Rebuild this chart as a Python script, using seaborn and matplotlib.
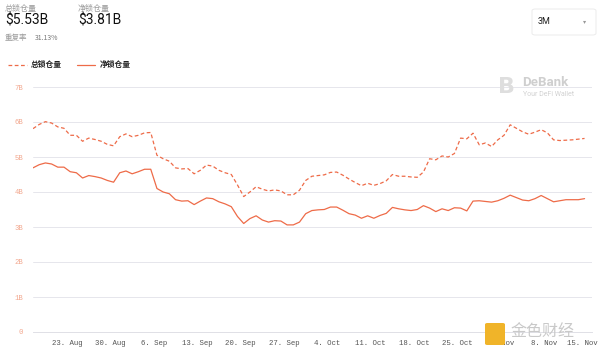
import numpy as np
import pandas as pd
import matplotlib
matplotlib.use('Agg')
import matplotlib.pyplot as plt
import matplotlib.patches as mpatches
import matplotlib.dates as mdates
import seaborn as sns

# 总锁仓量 / 净锁仓量 (B), 每日数据
total_tvl = [5.81, 5.93, 6.01, 5.97, 5.86, 5.82, 5.62, 5.62, 5.45, 5.54,
             5.50, 5.45, 5.36, 5.32, 5.58, 5.66, 5.58, 5.62, 5.69, 5.70,
             5.05, 4.95, 4.88, 4.69, 4.66, 4.67, 4.52, 4.62, 4.77, 4.74,
             4.62, 4.55, 4.50, 4.20, 3.87, 4.00, 4.15, 4.08, 4.03, 4.06,
             4.03, 3.92, 3.92, 4.05, 4.33, 4.45, 4.47, 4.49, 4.56, 4.57,
             4.48, 4.37, 4.27, 4.18, 4.25, 4.19, 4.24, 4.32, 4.50, 4.45,
             4.45, 4.43, 4.42, 4.57, 4.95, 4.92, 5.03, 5.00, 5.10, 5.54,
             5.52, 5.68, 5.35, 5.40, 5.30, 5.49, 5.62, 5.92, 5.82, 5.72,
             5.65, 5.71, 5.78, 5.69, 5.49, 5.47, 5.48, 5.49, 5.51, 5.53]
net_tvl = [4.69, 4.78, 4.83, 4.80, 4.71, 4.71, 4.58, 4.55, 4.40, 4.47,
           4.44, 4.40, 4.33, 4.28, 4.55, 4.60, 4.52, 4.58, 4.65, 4.65,
           4.10, 4.00, 3.95, 3.78, 3.74, 3.75, 3.64, 3.74, 3.83, 3.81,
           3.72, 3.66, 3.58, 3.30, 3.10, 3.24, 3.32, 3.20, 3.14, 3.18,
           3.17, 3.06, 3.06, 3.14, 3.38, 3.47, 3.49, 3.50, 3.57, 3.57,
           3.48, 3.38, 3.34, 3.25, 3.32, 3.25, 3.33, 3.39, 3.56, 3.52,
           3.49, 3.47, 3.50, 3.61, 3.54, 3.44, 3.52, 3.47, 3.55, 3.54,
           3.46, 3.74, 3.75, 3.73, 3.71, 3.75, 3.82, 3.91, 3.84, 3.77,
           3.75, 3.81, 3.90, 3.81, 3.72, 3.75, 3.78, 3.78, 3.78, 3.81]
dates = pd.date_range('2021-08-17 12:00', periods=len(total_tvl), freq='D')
x_ticks = pd.date_range('2021-08-23', '2021-11-15', freq='7D')
y_ticks = [0, 1, 2, 3, 4, 5, 6, 7]
y_labels = ['0', '1B', '2B', '3B', '4B', '5B', '6B', '7B']

df = pd.DataFrame({'date': dates, 'total': total_tvl, 'net': net_tvl})

sns.set_style('white')
plt.rcParams['font.family'] = ['Noto Sans CJK SC', 'DejaVu Sans']

line_c = '#ee6b48'
W, H = 600, 354
fig = plt.figure(figsize=(6, 3.54), dpi=100)
ax = fig.add_axes([33 / W, 1 - 332 / H, (592 - 33) / W, (332 - 87) / H])

sns.lineplot(data=df, x='date', y='total', ax=ax, color=line_c, lw=0.9,
             linestyle=(0, (3, 2)))
sns.lineplot(data=df, x='date', y='net', ax=ax, color=line_c, lw=0.9)

ax.set_ylim(0, 7)
ax.set_xlim(dates[0], dates[0] + pd.Timedelta(hours=24 * 90.2))
ax.set_yticks(y_ticks)
ax.set_yticklabels(y_labels, fontsize=5.2, color='#f2a88f', family='Liberation Mono')
ax.set_xticks(x_ticks)
tick_txt = [f'{d.day}. {d.strftime("%b")}' for d in x_ticks]
# 最后一个标签单独画, 稍微左移以免超出画面
ax.set_xticklabels(tick_txt[:-1] + [''], fontsize=5.3, color='#555555',
                   family='Liberation Mono')
ax.text(mdates.date2num(x_ticks[-1]) - 0.8, -8 / 245, tick_txt[-1],
        transform=ax.get_xaxis_transform(), ha='center', va='top',
        fontsize=5.3, color='#555555', family='Liberation Mono')
ax.tick_params(axis='y', length=0, pad=7)
ax.tick_params(axis='x', length=4, width=0.6, color='#cccccc', pad=2, direction='out')
ax.grid(axis='y', color='#e6e6ec', lw=0.7)
ax.set_xlabel('')
ax.set_ylabel('')
for s in ['top', 'right', 'left']:
    ax.spines[s].set_visible(False)
ax.spines['bottom'].set_color('#e0e0e6')
ax.spines['bottom'].set_linewidth(0.7)


def ftext(x, y, s, **kw):
    fig.text(x / W, 1 - y / H, s, **kw)


# 顶部统计
ftext(5, 8, '总锁仓量', fontsize=5.8, color='#9a9a9a', va='center')
ftext(5, 20, '$5.53B', fontsize=10, color='#111111', va='center', family='Roboto')
ftext(78, 8, '净锁仓量', fontsize=5.8, color='#9a9a9a', va='center')
ftext(78, 20, '$3.81B', fontsize=10, color='#111111', va='center', family='Roboto')
ftext(5, 38, '重复率', fontsize=5.4, color='#9a9a9a', va='center')
ftext(35, 38, '31.13%', fontsize=5, color='#777777', va='center')

# 图例
fig.add_artist(plt.Line2D([8 / W, 27 / W], [1 - 65 / H] * 2, color=line_c, lw=0.9,
                          linestyle=(0, (3, 2))))
ftext(31, 65, '总锁仓量', fontsize=5.6, color='#222222', va='center', weight='bold')
fig.add_artist(plt.Line2D([77 / W, 95 / W], [1 - 65 / H] * 2, color=line_c, lw=0.9))
ftext(100, 65, '净锁仓量', fontsize=5.6, color='#222222', va='center', weight='bold')

# 下拉框
fig.add_artist(mpatches.FancyBboxPatch((532 / W, 1 - 35 / H), 64 / W, 26 / H,
                                       boxstyle='round,pad=0,rounding_size=0.005',
                                       transform=fig.transFigure, fc='white',
                                       ec='#e8e8e8', lw=0.6))
ftext(538, 22, '3M', fontsize=6.5, color='#222222', va='center', family='Roboto')
ftext(585, 22, '▾', fontsize=4.5, color='#999999', va='center', ha='center',
      family='DejaVu Sans')

# 水印
ftext(507, 87, 'B', fontsize=16, color='#dedede', va='center', ha='center',
      weight='bold', family='DejaVu Sans')
ftext(522, 82, 'DeBank', fontsize=9.5, color='#cfcfcf', va='center', weight='bold',
      family='Roboto')
ftext(523, 94, 'Your DeFi Wallet', fontsize=5, color='#d2d2d2', va='center',
      family='Roboto')
fig.add_artist(mpatches.FancyBboxPatch((485 / W, 1 - 345 / H), 20 / W, 22 / H,
                                       boxstyle='round,pad=0,rounding_size=0.004',
                                       transform=fig.transFigure, fc='#f0b429',
                                       ec='none'))
ftext(510, 331, '金色财经', fontsize=11.5, color='#c9c9c9', va='center')

fig.savefig('out.png', dpi=100)
